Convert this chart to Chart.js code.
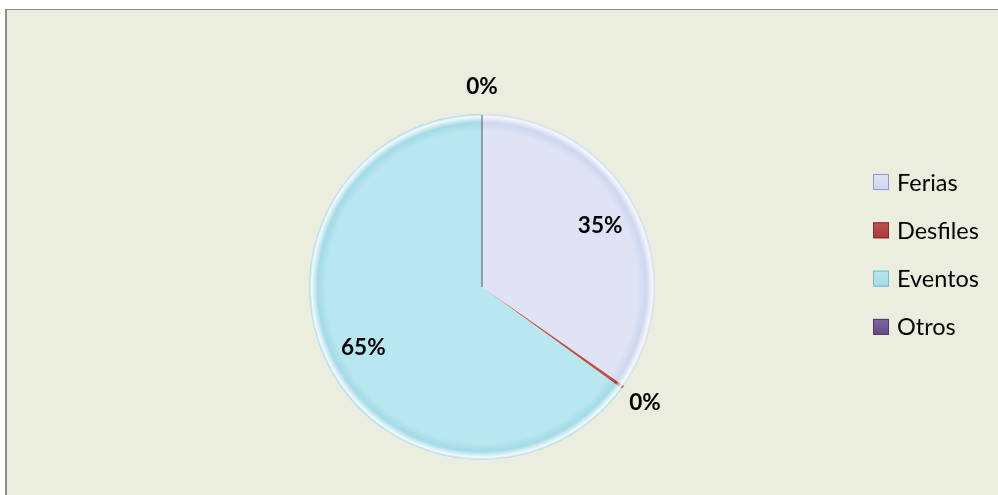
<!DOCTYPE html>
<html>
<head>
<meta charset="utf-8">
<script src="https://cdn.jsdelivr.net/npm/chart.js@4/dist/chart.umd.min.js"></script>
<style>
  html, body { margin: 0; padding: 0; background: #ffffff; }
  #wrap { width: 998px; height: 495px; position: relative; }
</style>
</head>
<body>
<div id="wrap"><canvas id="pieChart"></canvas></div>
<script>
// data (percent of total)
const categories = ["Ferias", "Desfiles", "Eventos", "Otros"];
const shares = [34.7, 0.3, 65, 0];

// Excel-ish palette
const SLICE_BASE = ["#dfe3f5", "#c0504d", "#b9e7f0", "#8064a2"];
const SLICE_EDGE = ["#cfd6f0", "#a33d3a", "#a3dbe7", "#644b85"];
const BOX_BORDER = ["#8e9bc6", "#8c2b28", "#7fb7bf", "#4d3a68"];
const FRAME_BG = "#ebeedf";
const FRAME_LINE = "#8c8c8c";
const FONT = "Lato, 'Open Sans', sans-serif";

const total = shares.reduce((a, b) => a + b, 0);
const pctText = (v) => `${Math.round((v / total) * 100)}%`;

// frame background + grey top/left rule
const framePlugin = {
  id: "frame",
  beforeDraw(chart) {
    const { ctx, width, height } = chart;
    ctx.save();
    ctx.fillStyle = "#ffffff";
    ctx.fillRect(0, 0, width, height);
    ctx.fillStyle = FRAME_BG;
    ctx.fillRect(7, 10, width - 7, height - 10);
    ctx.fillStyle = FRAME_LINE;
    ctx.fillRect(5, 9, width - 5, 1);
    ctx.fillRect(5, 9, 2, height - 9);
    ctx.restore();
  },
};

// dark seam where the empty slice sits (top of the pie)
const seamPlugin = {
  id: "seam",
  afterDatasetsDraw(chart) {
    const meta = chart.getDatasetMeta(0);
    const { ctx } = chart;
    ctx.save();
    meta.data.forEach((arc, i) => {
      if (shares[i] !== 0) return;
      const p = arc.getProps(["x", "y", "startAngle", "outerRadius"], true);
      ctx.beginPath();
      ctx.moveTo(p.x, p.y);
      ctx.lineTo(p.x + Math.cos(p.startAngle) * (p.outerRadius - 1),
                 p.y + Math.sin(p.startAngle) * (p.outerRadius - 1));
      ctx.lineWidth = 1;
      ctx.strokeStyle = "rgba(40,40,40,0.75)";
      ctx.stroke();
    });
    ctx.restore();
  },
};

// percentage labels: inside for big slices, outside for tiny ones
const labelPlugin = {
  id: "pctLabels",
  afterDatasetsDraw(chart) {
    const { ctx } = chart;
    const meta = chart.getDatasetMeta(0);
    ctx.save();
    ctx.font = `bold 22.5px ${FONT}`;
    ctx.fillStyle = "#000000";
    ctx.textAlign = "center";
    ctx.textBaseline = "middle";
    meta.data.forEach((arc, i) => {
      const p = arc.getProps(["x", "y", "startAngle", "endAngle", "outerRadius"], true);
      const mid = (p.startAngle + p.endAngle) / 2;
      const small = shares[i] / total < 0.05;
      const r = small ? p.outerRadius + 27 : p.outerRadius * 0.77;
      ctx.fillText(pctText(shares[i]), p.x + Math.cos(mid) * r, p.y + Math.sin(mid) * r);
    });
    ctx.restore();
  },
};

// legend on the right, vertically centred in the frame
const legendPlugin = {
  id: "sideLegend",
  afterDraw(chart) {
    const { ctx } = chart;
    const boxX = 873, box = 16, textX = 897, firstY = 182, step = 48.3;
    ctx.save();
    ctx.font = `23.5px ${FONT}`;
    ctx.textBaseline = "middle";
    ctx.textAlign = "left";
    categories.forEach((name, i) => {
      const cy = firstY + i * step;
      const top = cy - box / 2;
      const g = ctx.createLinearGradient(0, top, 0, top + box);
      g.addColorStop(0, SLICE_BASE[i]);
      g.addColorStop(1, SLICE_EDGE[i]);
      ctx.fillStyle = g;
      ctx.fillRect(boxX, top, box, box);
      ctx.strokeStyle = BOX_BORDER[i];
      ctx.lineWidth = 1;
      ctx.strokeRect(boxX + 0.5, top + 0.5, box - 1, box - 1);
      ctx.fillStyle = "#000000";
      ctx.fillText(name, textX, cy + 1);
    });
    ctx.restore();
  },
};

// radial fill: flat body, slightly deeper tone, then a pale bevelled rim
function sliceFill(context) {
  const i = context.dataIndex;
  const chart = context.chart;
  const area = chart.chartArea;
  if (!area) return SLICE_BASE[i];
  const cx = (area.left + area.right) / 2;
  const cy = (area.top + area.bottom) / 2;
  const r = Math.min(area.width, area.height) / 2;
  const g = chart.ctx.createRadialGradient(cx, cy, 0, cx, cy, r);
  g.addColorStop(0, SLICE_BASE[i]);
  g.addColorStop(0.9, SLICE_BASE[i]);
  g.addColorStop(0.95, SLICE_EDGE[i]);
  g.addColorStop(0.985, "#f4f8fb");
  g.addColorStop(1, SLICE_EDGE[i]);
  return g;
}

new Chart(document.getElementById("pieChart"), {
  type: "pie",
  data: {
    labels: categories,
    datasets: [
      {
        data: shares,
        backgroundColor: sliceFill,
        borderWidth: 0,
      },
    ],
  },
  options: {
    responsive: true,
    maintainAspectRatio: false,
    animation: false,
    layout: {
      padding: { left: 309, right: 343, top: 114, bottom: 35 },
    },
    plugins: {
      legend: { display: false },
      tooltip: { enabled: false },
    },
  },
  plugins: [framePlugin, seamPlugin, labelPlugin, legendPlugin],
});
</script>
</body>
</html>
